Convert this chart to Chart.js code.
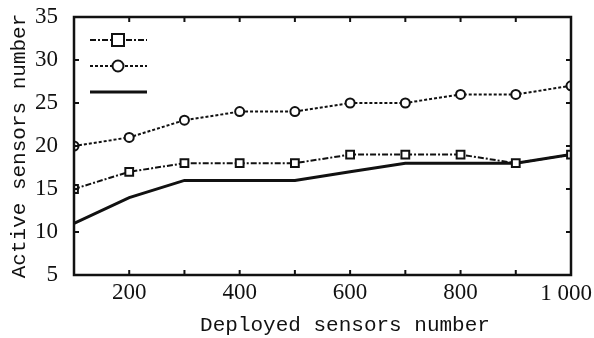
<!DOCTYPE html>
<html>
<head>
<meta charset="utf-8">
<script src="https://cdn.jsdelivr.net/npm/chart.js@4/dist/chart.umd.min.js"></script>
<style>
  html, body { margin: 0; padding: 0; background: #fff; }
  #wrap { width: 594px; height: 338px; }
</style>
</head>
<body>
<div id="wrap"><canvas id="chartSensors"></canvas></div>
<script>
// Deployed sensors (x) vs active sensors (y)
const deployed = [100, 200, 300, 400, 500, 600, 700, 800, 900, 1000];
const squareSeries = [15, 17, 18, 18, 18, 19, 19, 19, 18, 19];
const circleSeries = [20, 21, 23, 24, 24, 25, 25, 26, 26, 27];
const solidSeries = [11, 14, 16, 16, 16, 17, 18, 18, 18, 19];
const xTickLabels = { 200: "200", 400: "400", 600: "600", 800: "800" };
const lastXLabel = "1 000"; // drawn by hand, it hangs off the right edge otherwise
const yTicks = [5, 10, 15, 20, 25, 30, 35];
const xTitle = "Deployed sensors number";
const yTitle = "Active sensors number";

const ink = "#111";

const toPoints = (ys) => deployed.map((x, i) => ({ x: x, y: ys[i] }));

// box around plot + inward tick marks + legend samples without text
const boxPlugin = {
  id: "boxPlugin",
  afterDraw(chart) {
    const ctx = chart.ctx;
    const a = chart.chartArea;
    const xs = chart.scales.x;
    const ys = chart.scales.y;
    ctx.save();
    ctx.strokeStyle = ink;
    ctx.lineWidth = 2.5;
    ctx.strokeRect(a.left, a.top, a.right - a.left, a.bottom - a.top);
    ctx.lineWidth = 2;
    const len = 5;
    deployed.forEach((v) => {
      const px = xs.getPixelForValue(v);
      ctx.beginPath();
      ctx.moveTo(px, a.bottom); ctx.lineTo(px, a.bottom - len);
      ctx.moveTo(px, a.top); ctx.lineTo(px, a.top + len);
      ctx.stroke();
    });
    yTicks.forEach((v) => {
      const py = ys.getPixelForValue(v);
      ctx.beginPath();
      ctx.moveTo(a.left, py); ctx.lineTo(a.left + len, py);
      ctx.moveTo(a.right, py); ctx.lineTo(a.right - len, py);
      ctx.stroke();
    });

    ctx.fillStyle = ink;
    ctx.textBaseline = "middle";
    ctx.font = "23px 'Liberation Serif'";
    ctx.textAlign = "right";
    ctx.fillText(lastXLabel, 592, 294);

    // x axis title, sits a bit right of centre in the original
    ctx.font = "21px 'Liberation Mono'";
    ctx.textAlign = "center";
    ctx.fillText(xTitle, 345, 325);

    // legend samples
    const x0 = 90, x1 = 147, mx = 118;
    const rows = [40, 66, 92];
    chart.data.datasets.forEach((ds, i) => {
      const y = rows[i];
      ctx.setLineDash(ds.borderDash || []);
      ctx.lineWidth = ds.borderWidth;
      ctx.beginPath();
      ctx.moveTo(x0, y); ctx.lineTo(x1, y);
      ctx.stroke();
      ctx.setLineDash([]);
      ctx.lineWidth = 2;
      ctx.fillStyle = "#fff";
      if (ds.pointStyle === "rect") {
        ctx.fillRect(mx - 6, y - 6, 12, 12);
        ctx.strokeRect(mx - 6, y - 6, 12, 12);
      } else if (ds.pointRadius > 0) {
        ctx.beginPath();
        ctx.arc(mx, y, 5.5, 0, Math.PI * 2);
        ctx.fill();
        ctx.stroke();
      }
    });
    ctx.restore();
  },
};

const chartSensors = document.getElementById("chartSensors");
new Chart(chartSensors, {
  type: "line",
  data: {
    datasets: [
      {
        data: toPoints(squareSeries),
        borderColor: ink,
        borderWidth: 2,
        borderDash: [6, 2, 2, 2],
        pointStyle: "rect",
        pointRadius: 5.5,
        pointBorderWidth: 2,
        pointBorderColor: ink,
        pointBackgroundColor: "#fff",
      },
      {
        data: toPoints(circleSeries),
        borderColor: ink,
        borderWidth: 2,
        borderDash: [3, 2],
        pointStyle: "circle",
        pointRadius: 4.5,
        pointBorderWidth: 2,
        pointBorderColor: ink,
        pointBackgroundColor: "#fff",
      },
      {
        data: toPoints(solidSeries),
        borderColor: ink,
        borderWidth: 3,
        pointRadius: 0,
      },
    ],
  },
  options: {
    responsive: true,
    maintainAspectRatio: false,
    animation: false,
    layout: { padding: { top: 17, right: 23, left: 0, bottom: 0 } },
    plugins: { legend: { display: false }, tooltip: { enabled: false } },
    scales: {
      x: {
        type: "linear",
        min: 100,
        max: 1000,
        afterFit: (s) => {
          s.height = 63;
          s.paddingLeft = 0;
          s.paddingRight = 0;
        },
        grid: { display: false },
        border: { display: false },
        ticks: {
          stepSize: 100,
          autoSkip: false,
          maxRotation: 0,
          padding: -4,
          color: ink,
          font: { family: "Liberation Serif", size: 23 },
          callback: (v) => xTickLabels[v] || "",
        },
      },
      y: {
        min: 5,
        max: 35,
        afterFit: (s) => {
          s.width = 74;
          s.paddingTop = 0;
          s.paddingBottom = 0;
        },
        grid: { display: false },
        border: { display: false },
        ticks: {
          stepSize: 5,
          padding: 8,
          color: ink,
          font: { family: "Liberation Serif", size: 23 },
        },
        title: {
          display: true,
          text: yTitle,
          color: ink,
          padding: { top: 7, bottom: 0 },
          font: { family: "Liberation Mono", size: 21 },
        },
      },
    },
  },
  plugins: [boxPlugin],
});
</script>
</body>
</html>
